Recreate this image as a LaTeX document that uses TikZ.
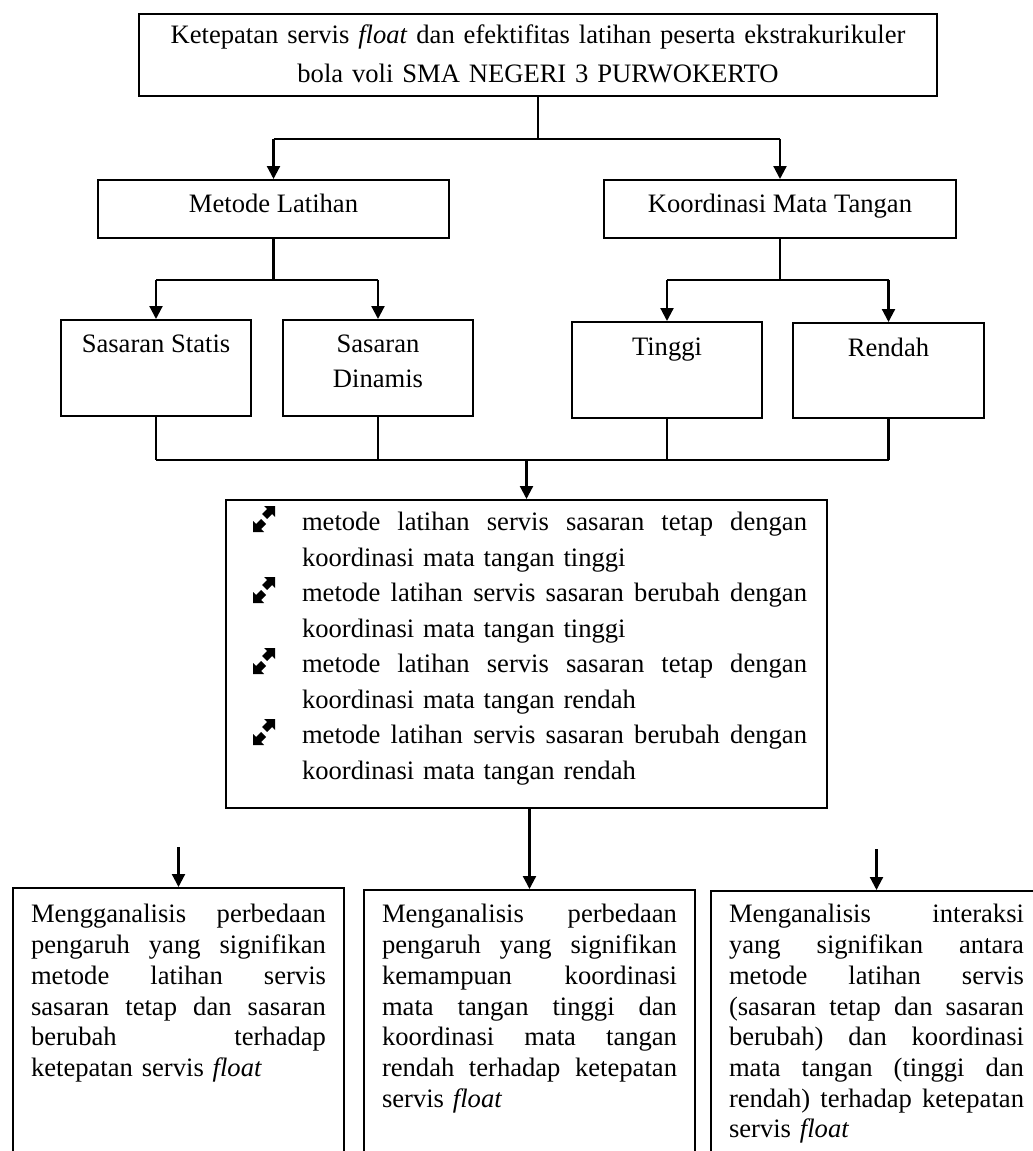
\documentclass[tikz,border=0pt]{standalone}
\usepackage{fontspec}
\setmainfont{Liberation Serif}
\usetikzlibrary{arrows.meta,positioning,calc}
\newcommand{\teks}{\fontsize{26.6pt}{30.7pt}\selectfont}
\newcommand{\rata}[2]{\makebox[#1][s]{\spaceskip=0.25em plus 1fil\relax #2}}
\newcommand{\baris}[1]{\rata{295pt}{#1}}
\newcommand{\butir}[2]{\hspace*{76pt}\rata{505pt}{#1}\\\hspace*{76pt}#2}
\tikzset{
  kotak/.style={draw, line width=1.8pt, inner sep=0pt, align=center, font=\teks, anchor=north},
  kotakisi/.style={draw, line width=1.8pt, inner ysep=0pt, align=left, text width=#1,
    font=\teks, anchor=north},
  kotakisi/.default=295pt,
  garis/.style={line width=2.2pt},
  panah/.style={-{Triangle[length=13pt, width=13pt]}, line width=2.2pt},
}

\begin{document}
\begin{tikzpicture}[x=1pt, y=-1pt]
    \useasboundingbox (0,0) rectangle (1033,1151);

    \node[kotak, minimum width=798pt, text width=760pt, text height=30pt, text depth=52pt,
      font=\fontsize{26.6pt}{38.7pt}\selectfont] (judul) at (538,13)
      {Ketepatan servis \textit{float} dan efektifitas latihan peserta ekstrakurikuler\\
       bola voli SMA NEGERI 3 PURWOKERTO};

    \node[kotak, minimum width=351pt, text height=33pt, text depth=25pt] (metode) at (273.5,179) {Metode Latihan};
    \node[kotak, minimum width=352pt, text height=33pt, text depth=25pt] (koordinasi) at (780,179) {Koordinasi Mata Tangan};

    \node[kotak, minimum width=190pt, text height=33pt, text depth=63pt] (statis) at (156,319) {Sasaran Statis};
    \node[kotak, minimum width=190pt, text width=170pt, text height=33pt, text depth=63pt,
      font=\fontsize{26.6pt}{35pt}\selectfont] (dinamis) at (378,319) {Sasaran\\Dinamis};
    \node[kotak, minimum width=190pt, text height=34pt, text depth=62pt] (tinggi) at (667,321) {Tinggi};
    \node[kotak, minimum width=191pt, text height=34pt, text depth=61pt] (rendah) at (888.5,322) {Rendah};

    \node[kotakisi=601pt, inner xsep=0pt, text height=31pt, text depth=277pt,
      font=\fontsize{26.6pt}{35.5pt}\selectfont] (perlakuan) at (526.5,499)
      {\butir{metode latihan servis sasaran tetap dengan}{koordinasi mata tangan tinggi}\\
       \butir{metode latihan servis sasaran berubah dengan}{koordinasi mata tangan tinggi}\\
       \butir{metode latihan servis sasaran tetap dengan}{koordinasi mata tangan rendah}\\
       \butir{metode latihan servis sasaran berubah dengan}{koordinasi mata tangan rendah}};
    % tanda butir (panah diagonal)
    \foreach \k in {0,...,3} {
      \begin{scope}[shift={($(perlakuan.north west)+(39,20+71*\k)$)}]
        \fill (11,-13) -- (0,-13) -- (3.03,-9.97) -- (-1.97,-4.97) -- (2.97,-0.03)
          -- (7.97,-5.03) -- (11,-2) -- cycle;
        \fill (-11,13) -- (0,13) -- (-3.03,9.97) -- (1.97,4.97) -- (-2.97,0.03)
          -- (-7.97,5.03) -- (-11,2) -- cycle;
      \end{scope}
    }

    \node[kotakisi, inner xsep=18pt, text height=35pt, text depth=260pt] (tujuan1) at (178.5,887)
      {\baris{Mengganalisis perbedaan}\\ \baris{pengaruh yang signifikan}\\ \baris{metode latihan servis}\\
       \baris{sasaran tetap dan sasaran}\\ \baris{berubah terhadap}\\ ketepatan servis \textit{float}};
    \node[kotakisi, inner xsep=18pt, text height=33pt, text depth=260pt] (tujuan2) at (529.5,889)
      {\baris{Menganalisis perbedaan}\\ \baris{pengaruh yang signifikan}\\ \baris{kemampuan koordinasi}\\
       \baris{mata tangan tinggi dan}\\ \baris{koordinasi mata tangan}\\ \baris{rendah terhadap ketepatan}\\
       servis \textit{float}};
    \node[kotakisi, inner xsep=18pt, text height=32pt, text depth=260pt] (tujuan3) at (876.5,890)
      {\baris{Menganalisis interaksi}\\ \baris{yang signifikan antara}\\ \baris{metode latihan servis}\\
       \baris{(sasaran tetap dan sasaran}\\ \baris{berubah) dan koordinasi}\\ \baris{mata tangan (tinggi dan}\\
       \baris{rendah) terhadap ketepatan}\\ servis \textit{float}};

    \draw[garis] (judul.south) -- ++(0,42) coordinate (cabang1);
    \draw[garis] (metode.north |- cabang1) -- (koordinasi.north |- cabang1);
    \draw[panah] (metode.north |- cabang1) -- (metode.north);
    \draw[panah] (koordinasi.north |- cabang1) -- (koordinasi.north);

    \draw[garis] (metode.south) -- ++(0,41) coordinate (cabang2);
    \draw[garis] (statis.north |- cabang2) -- (dinamis.north |- cabang2);
    \draw[panah] (statis.north |- cabang2) -- (statis.north);
    \draw[panah] (dinamis.north |- cabang2) -- (dinamis.north);

    \draw[garis] (koordinasi.south) -- ++(0,41) coordinate (cabang3);
    \draw[garis] (tinggi.north |- cabang3) -- (rendah.north |- cabang3);
    \draw[panah] (tinggi.north |- cabang3) -- (tinggi.north);
    \draw[panah] (rendah.north |- cabang3) -- (rendah.north);

    \coordinate (gabung) at (0,460);
    \draw[garis] (statis.south) -- (statis.south |- gabung);
    \draw[garis] (dinamis.south) -- (dinamis.south |- gabung);
    \draw[garis] (tinggi.south) -- (tinggi.south |- gabung);
    \draw[garis] (rendah.south) -- (rendah.south |- gabung);
    \draw[garis] (statis.south |- gabung) -- (rendah.south |- gabung);
    \draw[panah] (perlakuan.north |- gabung) -- (perlakuan.north);

    \coordinate (ujung1) at ($(tujuan1.north)+(0,-40)$);
    \coordinate (ujung3) at ($(tujuan3.north)+(0,-41)$);
    \draw[panah] (perlakuan.south -| tujuan2.north) -- (tujuan2.north);
    \draw[panah] (ujung1) -- (tujuan1.north);
    \draw[panah] (ujung3) -- (tujuan3.north);
  \end{tikzpicture}
\end{document}
